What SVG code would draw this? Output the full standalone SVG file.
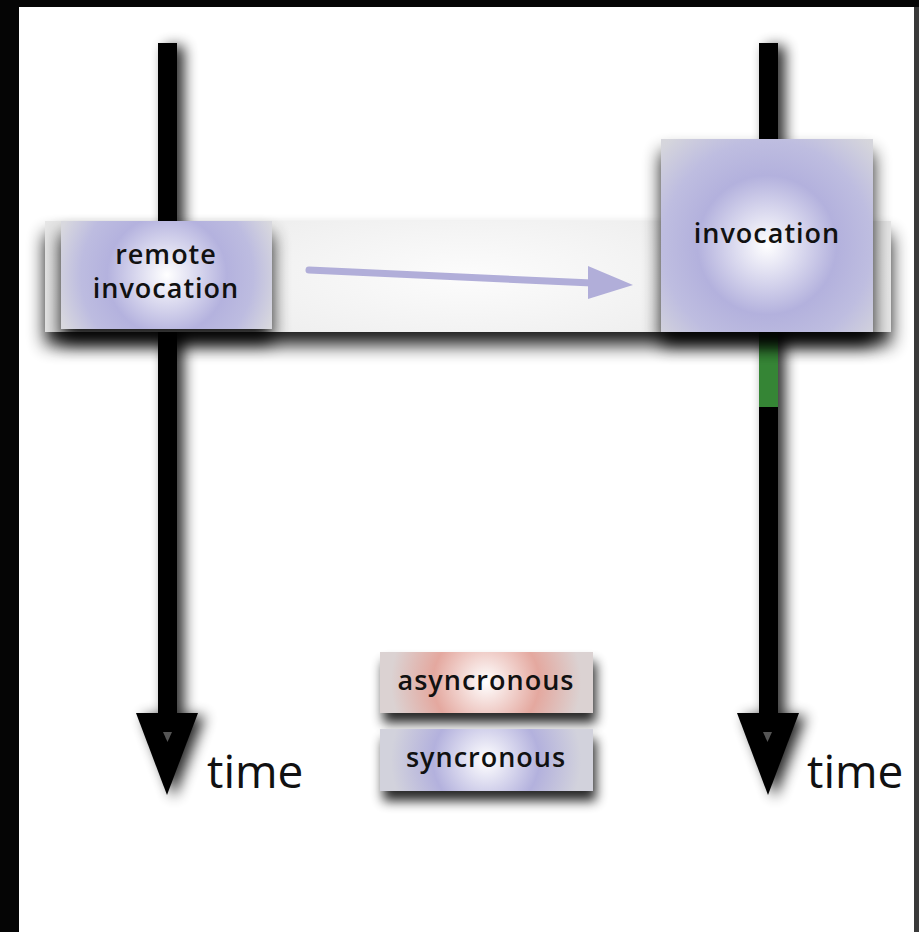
<svg xmlns="http://www.w3.org/2000/svg" width="919" height="932" viewBox="0 0 919 932">
  <defs>
    <style>
      text { font-variant-ligatures: none; }
      .lbl { font-family: "Open Sans", Lato, "Liberation Sans", sans-serif; font-weight: 600; font-size: 27px; letter-spacing: 1px; fill: #111; text-anchor: middle; }
      .time { font-family: "Open Sans", Lato, "Liberation Sans", sans-serif; font-weight: 400; font-size: 46px; fill: #111; }
      .bar { fill: #000; }
    </style>
    <!-- drop shadows -->
    <filter id="shBar" x="-60%" y="-10%" width="260%" height="130%">
      <feGaussianBlur in="SourceAlpha" stdDeviation="7"/>
      <feOffset dx="7" dy="3" result="b"/>
      <feComponentTransfer><feFuncA type="linear" slope="0.85"/></feComponentTransfer>
      <feMerge><feMergeNode/><feMergeNode in="SourceGraphic"/></feMerge>
    </filter>
    <filter id="shBox" x="-20%" y="-30%" width="140%" height="180%">
      <feGaussianBlur in="SourceAlpha" stdDeviation="9"/>
      <feOffset dx="0" dy="13"/>
      <feComponentTransfer><feFuncA type="linear" slope="0.9"/></feComponentTransfer>
      <feMerge><feMergeNode/><feMergeNode in="SourceGraphic"/></feMerge>
    </filter>
    <filter id="shLeg" x="-20%" y="-40%" width="140%" height="200%">
      <feGaussianBlur in="SourceAlpha" stdDeviation="6"/>
      <feOffset dx="3" dy="10"/>
      <feComponentTransfer><feFuncA type="linear" slope="0.85"/></feComponentTransfer>
      <feMerge><feMergeNode/><feMergeNode in="SourceGraphic"/></feMerge>
    </filter>

    <radialGradient id="gBand" gradientUnits="userSpaceOnUse" cx="468" cy="276" r="430" gradientTransform="translate(468 276) scale(1 0.3) translate(-468 -276)">
      <stop offset="0" stop-color="#fcfcfc"/>
      <stop offset="1" stop-color="#e6e6e6"/>
    </radialGradient>
    <radialGradient id="gRemote" gradientUnits="userSpaceOnUse" cx="167" cy="275" r="115">
      <stop offset="0" stop-color="#ffffff"/>
      <stop offset="0.52" stop-color="#b4b2de"/>
      <stop offset="0.75" stop-color="#bdbce0"/>
      <stop offset="1" stop-color="#d8d8de"/>
    </radialGradient>
    <radialGradient id="gInvoke" gradientUnits="userSpaceOnUse" cx="767" cy="245" r="145">
      <stop offset="0" stop-color="#ffffff"/>
      <stop offset="0.48" stop-color="#b3b1dd"/>
      <stop offset="0.72" stop-color="#bebde0"/>
      <stop offset="1" stop-color="#d6d6dc"/>
    </radialGradient>
    <radialGradient id="gAsync" gradientUnits="userSpaceOnUse" cx="486" cy="682" r="95">
      <stop offset="0" stop-color="#ffffff"/>
      <stop offset="0.56" stop-color="#e4a89f"/>
      <stop offset="1" stop-color="#dbd2d2"/>
    </radialGradient>
    <radialGradient id="gSync" gradientUnits="userSpaceOnUse" cx="486" cy="760" r="95">
      <stop offset="0" stop-color="#ffffff"/>
      <stop offset="0.56" stop-color="#b3b1dd"/>
      <stop offset="1" stop-color="#d2d2dc"/>
    </radialGradient>
  </defs>

  <rect x="0" y="0" width="919" height="932" fill="#ffffff"/>

  <!-- time lines -->
  <g id="timeline-left" filter="url(#shBar)">
    <rect class="bar" x="158" y="43" width="19" height="672"/>
    <polygon class="bar" points="136,713 198,713 167,795"/>
    <polygon points="163,732 172,732 167.5,742" fill="#555"/>
  </g>
  <g id="timeline-right" filter="url(#shBar)">
    <rect class="bar" x="759" y="43" width="19" height="672"/>
    <polygon class="bar" points="737,713 799,713 768,795"/>
    <polygon points="763,732 772,732 767.5,742" fill="#555"/>
  </g>
  <rect x="759" y="332" width="19" height="75" fill="#358535"/>
  <text class="time" x="207" y="788">time</text>
  <text class="time" x="807" y="788">time</text>

  <!-- message band between the two lines -->
  <g id="message-band" filter="url(#shBox)">
    <rect x="45" y="221" width="846" height="111" fill="url(#gBand)"/>
  </g>

  <g id="node-remote-invocation" filter="url(#shBox)">
    <rect x="61" y="221" width="211" height="108" fill="url(#gRemote)"/>
  </g>
  <text class="lbl" x="166" y="264">remote</text>
  <text class="lbl" x="166" y="298">invocation</text>

  <g id="node-invocation" filter="url(#shBox)">
    <rect x="661" y="139" width="212" height="193" fill="url(#gInvoke)"/>
  </g>
  <text class="lbl" x="767" y="243">invocation</text>

  <g id="connectors">
    <line x1="309" y1="270" x2="592" y2="283" stroke="#b1aed9" stroke-width="7" stroke-linecap="round"/>
    <polygon points="588,266 633,285 588,299" fill="#b1aed9"/>
  </g>

  <!-- legend -->
  <g id="legend-async" filter="url(#shLeg)">
    <rect x="380" y="652" width="213" height="61" fill="url(#gAsync)"/>
  </g>
  <text class="lbl" x="486" y="690">asyncronous</text>
  <g id="legend-sync" filter="url(#shLeg)">
    <rect x="380" y="729" width="213" height="62" fill="url(#gSync)"/>
  </g>
  <text class="lbl" x="486" y="767">syncronous</text>

  <!-- frame -->
  <rect x="914" y="0" width="5" height="932" fill="#3a3a3a"/>
  <rect x="0" y="0" width="19" height="932" fill="#050505"/>
  <rect x="0" y="0" width="919" height="7" fill="#050505"/>
</svg>
